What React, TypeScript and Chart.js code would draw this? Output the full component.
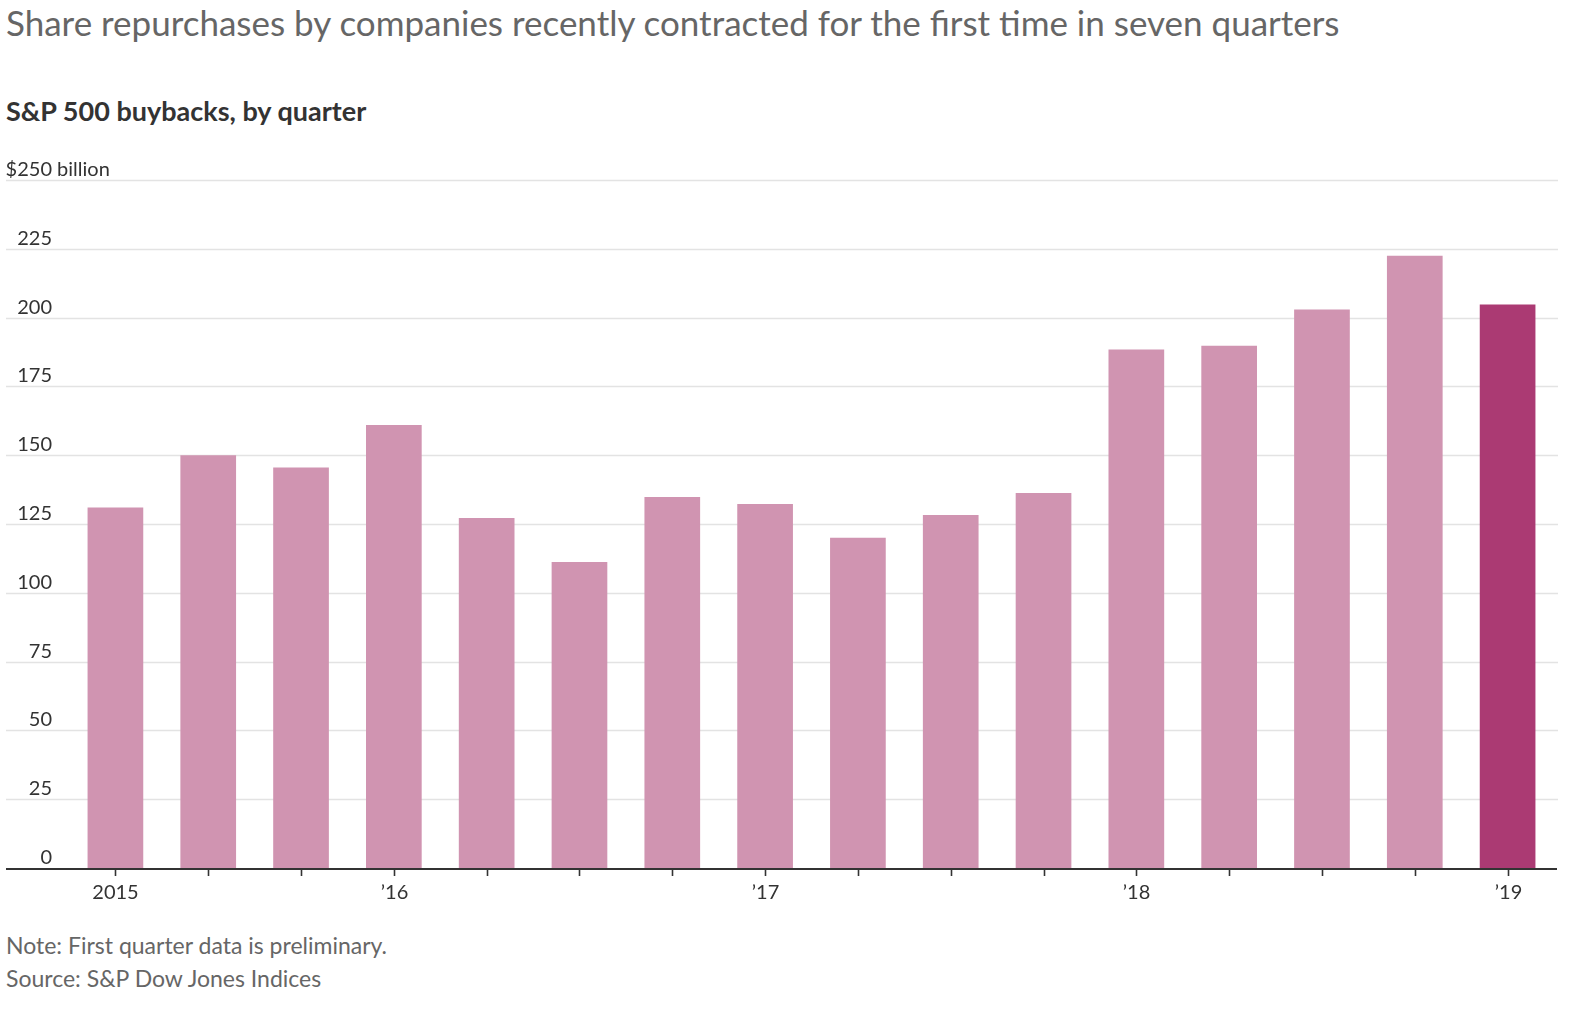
import React, { useEffect, useRef } from "react";
import { Chart, registerables } from "chart.js";

Chart.register(...registerables);

const categories = [
  "2015 Q2", "2015 Q3", "2015 Q4", "2016 Q1", "2016 Q2", "2016 Q3", "2016 Q4", "2017 Q1",
  "2017 Q2", "2017 Q3", "2017 Q4", "2018 Q1", "2018 Q2", "2018 Q3", "2018 Q4", "2019 Q1",
];
const buybacks = [131, 150, 145.5, 161, 127.2, 111.2, 134.8, 132.3, 120, 128.3, 136.3, 188.4, 189.8, 202.9, 222.5, 204.8];
const tickLabels = ["2015", "", "", "\u201916", "", "", "", "\u201917", "", "", "", "\u201918", "", "", "", "\u201919"];
const yTicks = [0, 25, 50, 75, 100, 125, 150, 175, 200, 225, 250];

const FONT = "Lato, 'Noto Sans', sans-serif";
const PINK = "#d094b1";
const DARK = "#ab3a73";

const decorPlugin = {
  id: "decor",
  beforeDatasetsDraw(chart: any) {
    const { ctx, scales, chartArea } = chart;
    const y = scales.y;
    ctx.save();
    ctx.strokeStyle = "#e3e3e3";
    ctx.lineWidth = 1.6;
    yTicks.forEach((v) => {
      if (v === 0) return;
      const py = Math.round(y.getPixelForValue(v)) + 0.5;
      ctx.beginPath();
      ctx.moveTo(6, py);
      ctx.lineTo(chartArea.right + 4, py);
      ctx.stroke();
    });
    ctx.fillStyle = "#333";
    ctx.font = `20px ${FONT}`;
    ctx.textBaseline = "alphabetic";
    yTicks.forEach((v) => {
      const py = y.getPixelForValue(v) - 4;
      if (v === 250) {
        const w = ctx.measureText("$250").width;
        ctx.textAlign = "left";
        ctx.fillText("$250 billion", 52 - w, py);
      } else {
        ctx.textAlign = "right";
        ctx.fillText(String(v), 52, py);
      }
    });
    ctx.restore();
  },
  afterDatasetsDraw(chart: any) {
    const { ctx, scales, chartArea } = chart;
    const x = scales.x;
    const base = scales.y.getPixelForValue(0);
    ctx.save();
    ctx.strokeStyle = "#333";
    ctx.lineWidth = 2;
    ctx.beginPath();
    ctx.moveTo(6, base + 1);
    ctx.lineTo(chartArea.right + 3, base + 1);
    ctx.stroke();
    ctx.lineWidth = 1.6;
    ctx.fillStyle = "#333";
    ctx.font = `20px ${FONT}`;
    ctx.textAlign = "center";
    ctx.textBaseline = "middle";
    categories.forEach((_, i) => {
      const px = Math.round(x.getPixelForValue(i)) + 0.5;
      ctx.beginPath();
      ctx.moveTo(px, base + 2);
      ctx.lineTo(px, base + 8);
      ctx.stroke();
      if (tickLabels[i]) ctx.fillText(tickLabels[i], px, base + 25);
    });
    ctx.restore();
  },
};

export default function App() {
  const ref = useRef<HTMLCanvasElement>(null);
  useEffect(() => {
    if (!ref.current) return;
    const chart = new Chart(ref.current, {
      type: "bar",
      data: {
        labels: categories,
        datasets: [
          {
            data: buybacks,
            backgroundColor: buybacks.map((_, i) => (i === buybacks.length - 1 ? DARK : PINK)),
            borderWidth: 0,
            categoryPercentage: 1,
            barPercentage: 0.6,
          },
        ],
      },
      options: {
        animation: false,
        responsive: false,
        maintainAspectRatio: false,
        layout: { padding: { left: 69, right: 18, top: 40, bottom: 62 } },
        plugins: { legend: { display: false }, tooltip: { enabled: false }, title: { display: false } },
        scales: {
          x: { display: false, offset: true },
          y: { display: false, min: 0, max: 250 },
        },
      },
      plugins: [decorPlugin],
    });
    return () => chart.destroy();
  }, []);

  return (
    <div style={{ position: "absolute", left: 0, top: 0, width: 1572, height: 1010, background: "#fff", fontFamily: FONT }}>
      <div style={{ position: "absolute", left: 6, top: 1, fontSize: 35, lineHeight: "42px", color: "#666", whiteSpace: "nowrap" }}>
        Share repurchases by companies recently contracted for the first time in seven quarters
      </div>
      <div style={{ position: "absolute", left: 6, top: 95, fontSize: 27, lineHeight: "32px", fontWeight: 700, color: "#333", whiteSpace: "nowrap" }}>
        S&amp;P 500 buybacks, by quarter
      </div>
      <canvas ref={ref} width={1572} height={790} style={{ position: "absolute", left: 0, top: 140, width: 1572, height: 790 }} />
      <div style={{ position: "absolute", left: 6, top: 931, fontSize: 23, lineHeight: "28px", color: "#666", whiteSpace: "nowrap" }}>
        Note: First quarter data is preliminary.
      </div>
      <div style={{ position: "absolute", left: 6, top: 964, fontSize: 23, lineHeight: "28px", color: "#666", whiteSpace: "nowrap" }}>
        Source: S&amp;P Dow Jones Indices
      </div>
    </div>
  );
}
